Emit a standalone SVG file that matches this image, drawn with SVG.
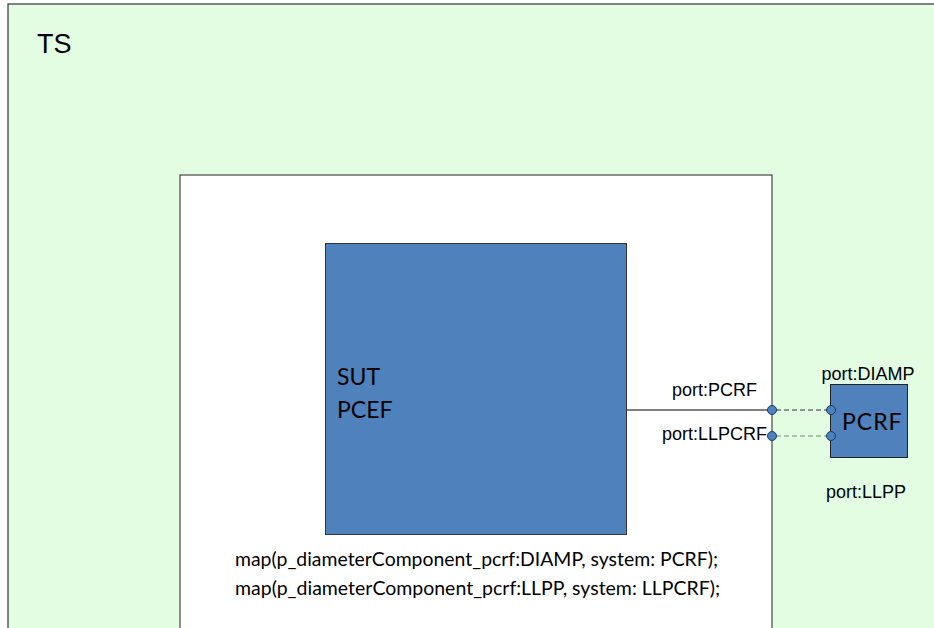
<svg xmlns="http://www.w3.org/2000/svg" width="934" height="628" viewBox="0 0 934 628">
<style>
.arial{font-family:"Liberation Sans",Arial,sans-serif;fill:#000}
.cal{font-family:Lato,"Open Sans",sans-serif;fill:#000}
.port{fill:#4f81bd;stroke:#1f3a5f;stroke-width:1}
</style>
<rect width="934" height="628" fill="#fff"/>
<g id="TS">
<rect x="8" y="4" width="940" height="640" fill="#e3fde3" stroke="#333" stroke-width="1.2"/>
<text class="arial" x="37" y="53" font-size="27">TS</text>
</g>
<g id="system">
<rect x="180" y="175" width="592" height="470" fill="#fff" stroke="#222" stroke-width="1"/>
<text class="cal" x="235" y="566" font-size="19" textLength="483" lengthAdjust="spacingAndGlyphs">map(p_diameterComponent_pcrf:DIAMP, system: PCRF);</text>
<text class="cal" x="235" y="595" font-size="19" textLength="485" lengthAdjust="spacingAndGlyphs">map(p_diameterComponent_pcrf:LLPP, system: LLPCRF);</text>
</g>
<g id="SUT">
<rect x="325.5" y="243.5" width="301" height="291" fill="#4f81bd" stroke="#333" stroke-width="1"/>
<text class="cal" x="337" y="385" font-size="23">SUT</text>
<text class="cal" x="337" y="418" font-size="23">PCEF</text>
</g>
<g id="PCRF">
<rect x="830.5" y="384.5" width="77" height="73" fill="#4f81bd" stroke="#222" stroke-width="1"/>
<text class="cal" x="842" y="430" font-size="23" letter-spacing="1">PCRF</text>
<text class="arial" x="868" y="380" font-size="18" text-anchor="middle">port:DIAMP</text>
<text class="arial" x="866" y="498" font-size="18" text-anchor="middle">port:LLPP</text>
</g>
<g id="connectors">
<line x1="627" y1="410" x2="768" y2="410" stroke="#000" stroke-width="1"/>
<line x1="776" y1="410" x2="827" y2="410" stroke="#333" stroke-width="1" stroke-dasharray="5,3"/>
<line x1="776" y1="436" x2="827" y2="436" stroke="#6a8f7a" stroke-width="1" stroke-dasharray="5,3"/>
</g>
<g id="ports">
<circle class="port" cx="772" cy="410" r="4.5"/>
<circle class="port" cx="772" cy="436" r="4.5" stroke="#7a9a9a"/>
<circle class="port" cx="831" cy="410" r="4.5"/>
<circle class="port" cx="831" cy="436" r="4.5"/>
<text class="arial" x="757" y="396" font-size="18" text-anchor="end">port:PCRF</text>
<text class="arial" x="767" y="440" font-size="18" text-anchor="end">port:LLPCRF</text>
</g>
</svg>
